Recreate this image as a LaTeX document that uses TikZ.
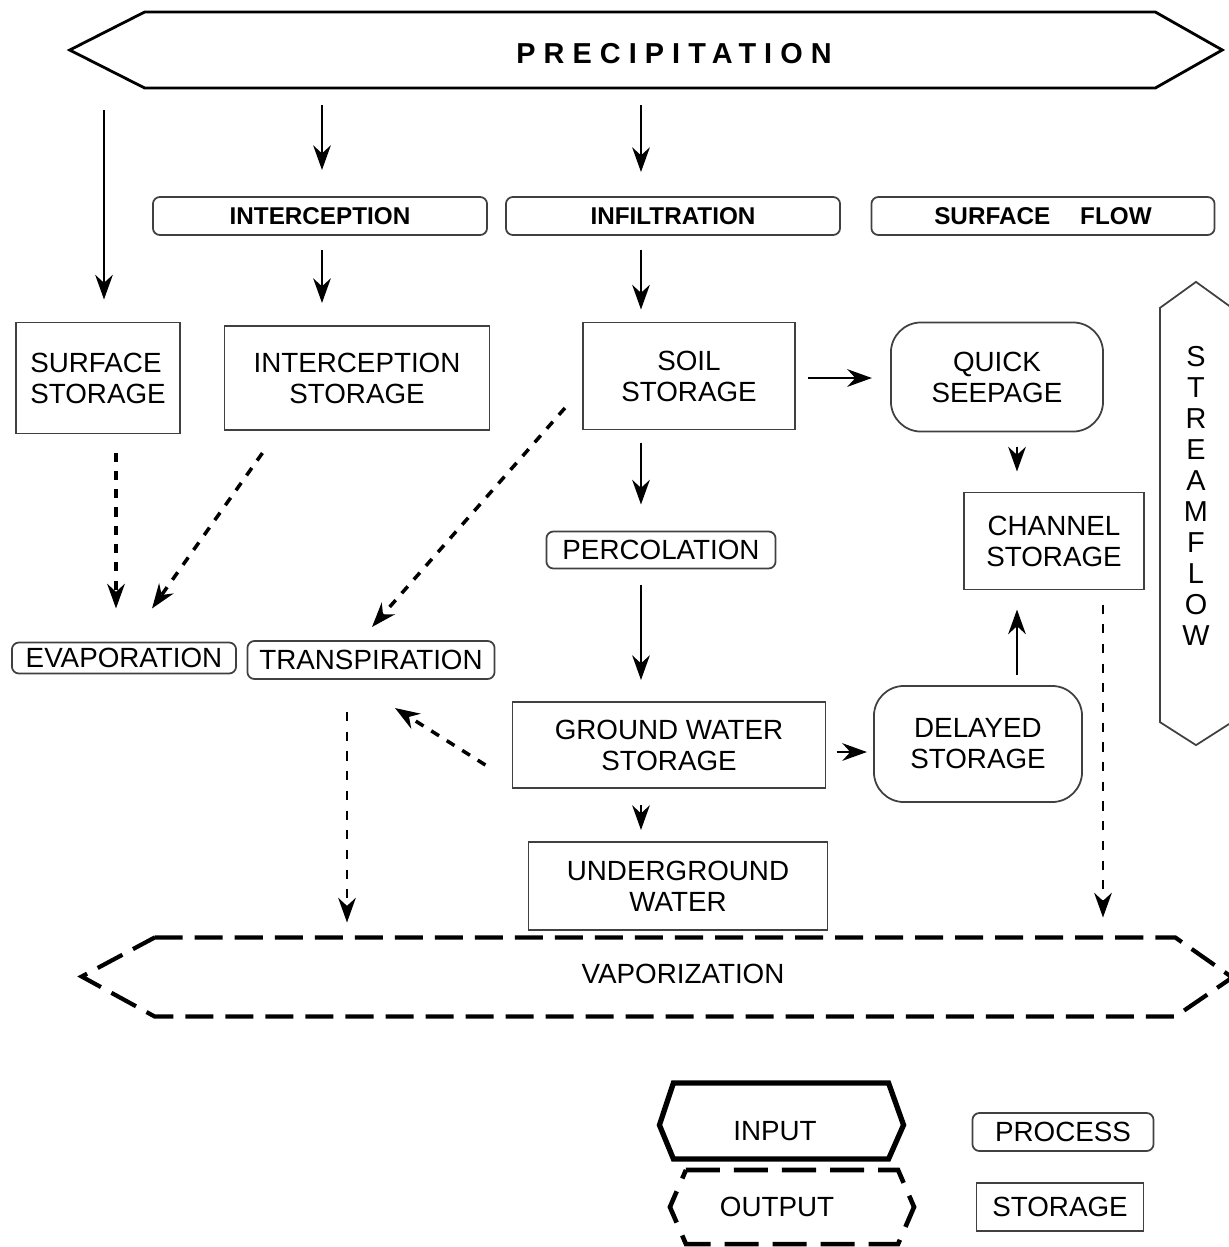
\documentclass[tikz,border=0pt]{standalone}
\usepackage{fontspec}
\setmainfont{Liberation Sans}
\usepackage{tikz}
\usetikzlibrary{arrows.meta}

\begin{document}
\begin{tikzpicture}[x=0.01cm,y=-0.01cm,>={Stealth[length=7pt,width=5pt]},
txt/.style={font=\fontsize{7.9}{8.8}\selectfont,align=center,inner sep=0pt,outer sep=0pt},
store/.style={txt,draw=black!75,line width=0.5pt},
rstore/.style={store,rounded corners=0.3cm},
proc/.style={store,rounded corners=0.07cm},
bproc/.style={proc,font=\fontsize{6.9}{8}\selectfont\bfseries},
shell/.style={inner sep=0pt,outer sep=0pt},
flow/.style={->,line width=0.7pt},
loss/.style={->,line width=1pt,dash pattern=on 2.6pt off 2.6pt},
vap/.style={->,line width=0.8pt,dash pattern=on 2.6pt off 3pt},
inio/.style={line width=0.8pt},
outio/.style={line width=1.2pt,dash pattern=on 0.28cm off 0.12cm}]
\useasboundingbox (0,0) rectangle (1229,1247);
\node (prec) [shell,minimum width=10.1cm,minimum height=0.76cm,label={[txt,font=\fontsize{8.2}{9}\selectfont\bfseries\addfontfeature{LetterSpace=28},xshift=0.24cm,yshift=-0.04cm]center:PRECIPITATION}] at (650,50) {};
\draw[inio] (prec.north west) -- (prec.north east) -- ++(67,38) -- (prec.south east) -- (prec.south west) -- ++(-75,-38) -- cycle;
\node (intc) [bproc,minimum width=3.34cm,minimum height=0.38cm] at (320,216) {INTERCEPTION};
\node (infl) [bproc,minimum width=3.34cm,minimum height=0.38cm] at (673,216) {INFILTRATION};
\node (sflow) [bproc,minimum width=3.43cm,minimum height=0.38cm] at (1043,216) {SURFACE\hspace{0.3cm}FLOW};
\node (surfst) [store,align=left,minimum width=1.64cm,minimum height=1.11cm] at (98,378) {SURFACE\\STORAGE};
\node (intst) [store,minimum width=2.65cm,minimum height=1.04cm] at (357,378) {INTERCEPTION\\STORAGE};
\node (soilst) [store,minimum width=2.12cm,minimum height=1.07cm] at (689,376) {SOIL\\STORAGE};
\node (quick) [rstore,minimum width=2.12cm,minimum height=1.09cm] at (997,377) {QUICK\\SEEPAGE};
\node (chanst) [store,minimum width=1.8cm,minimum height=0.97cm] at (1054,541) {CHANNEL\\STORAGE};
\node (perc) [proc,minimum width=2.29cm,minimum height=0.37cm] at (661,550) {PERCOLATION};
\node (evap) [proc,minimum width=2.24cm,minimum height=0.31cm] at (124,658) {EVAPORATION};
\node (transp) [proc,minimum width=2.47cm,minimum height=0.38cm] at (371,660) {TRANSPIRATION};
\node (gwst) [store,minimum width=3.13cm,minimum height=0.86cm] at (669,745) {GROUND WATER\\STORAGE};
\node (delay) [rstore,minimum width=2.08cm,minimum height=1.16cm] at (978,744) {DELAYED\\STORAGE};
\node (ugw) [store,minimum width=2.99cm,minimum height=0.88cm] at (678,886) {UNDERGROUND\\WATER};
\node (stream) [shell,minimum width=0.72cm,minimum height=4.14cm,label={[txt,font=\fontsize{8.2}{8.8}\selectfont,yshift=0.19cm]center:S\\T\\R\\E\\A\\M\\F\\L\\O\\W}] at (1196,515) {};
\draw[line width=0.5pt,black!75] (stream.south west) -- (stream.north west) -- ++(36,-26) -- ++(36,26) -- (stream.south east) -- ++(-36,23) -- cycle;
\node (vapor) [shell,minimum width=10.2cm,minimum height=0.79cm,label={[txt,xshift=0.18cm,yshift=0.03cm]center:VAPORIZATION}] at (665,977) {};
\draw[outio] (vapor.north west) -- (vapor.north east) -- ++(57,40) -- (vapor.south east) -- (vapor.south west) -- ++(-73,-40) -- cycle;
\node (inlg) [shell,minimum width=2.15cm,minimum height=0.76cm,label={[txt,xshift=-0.06cm,yshift=-0.1cm]center:INPUT}] at (781,1121) {};
\draw[line width=1.5pt] (inlg.north west) -- (inlg.north east) -- ++(15,42) -- (inlg.south east) -- (inlg.south west) -- ++(-14,-34) -- cycle;
\node (outlg) [shell,minimum width=2.12cm,minimum height=0.74cm,label={[txt,xshift=-0.15cm]center:OUTPUT}] at (792,1207) {};
\draw[line width=1.3pt,dash pattern=on 0.34cm off 0.14cm] (outlg.north west) -- (outlg.north east) -- ++(16,37) -- (outlg.south east) -- (outlg.south west) -- ++(-16,-37) -- cycle;
\node (proclg) [proc,minimum width=1.81cm,minimum height=0.38cm] at (1063,1132) {PROCESS};
\node (storlg) [store,minimum width=1.67cm,minimum height=0.48cm] at (1060,1207) {STORAGE};
\coordinate (colA) at (104,0);
\coordinate (colB) at (322,0);
\coordinate (colC) at (641,0);
\coordinate (colD) at (1017,0);
\coordinate (colE) at (116,0);
\coordinate (colF) at (347,0);
\coordinate (colG) at (1103,0);
\draw[flow,shorten <=0.22cm,shorten >=0.23cm] (prec.south -| colA) -- (surfst.north -| colA);
\draw[flow,shorten <=0.17cm,shorten >=0.27cm] (prec.south -| colB) -- (intc.north -| colB);
\draw[flow,shorten <=0.17cm,shorten >=0.25cm] (prec.south -| colC) -- (infl.north -| colC);
\draw[flow,shorten <=0.15cm,shorten >=0.23cm] (intc.south -| colB) -- (intst.north -| colB);
\draw[flow,shorten <=0.15cm,shorten >=0.13cm] (infl.south -| colC) -- (soilst.north -| colC);
\draw[flow,shorten <=0.13cm,shorten >=0.27cm] (soilst.south -| colC) -- (perc.north -| colC);
\draw[flow,shorten <=0.16cm,shorten >=0.22cm] (perc.south -| colC) -- (gwst.north -| colC);
\draw[flow,shorten <=0.17cm,shorten >=0.12cm] (gwst.south -| colC) -- (ugw.north -| colC);
\draw[flow,shorten <=0.13cm,shorten >=0.19cm] ([yshift=-0.02cm]soilst.east) -- ([yshift=-0.02cm]soilst.east -| quick.west);
\draw[flow,shorten <=0.15cm,shorten >=0.21cm] (quick.south -| colD) -- (chanst.north -| colD);
\draw[flow,shorten <=0.11cm,shorten >=0.2cm] (delay.north -| colD) -- (chanst.south -| colD);
\draw[flow,shorten <=0.11cm,shorten >=0.07cm] ([yshift=-0.07cm]gwst.east) -- ([yshift=-0.07cm]gwst.east -| delay.west);
\draw[loss,shorten <=0.19cm,shorten >=0.34cm] (surfst.south -| colE) -- (evap.north -| colE);
\draw[loss] ([shift={(38,23)}]intst.south west) -- ([shift={(28,-34)}]evap.north);
\draw[loss] ([shift={(-18,32)}]soilst.west) -- ([shift={(1,-14)}]transp.north);
\draw[loss] ([shift={(-27,20)}]gwst.west) -- ([shift={(24,29)}]transp.south);
\draw[vap,shorten <=0.33cm,shorten >=0.15cm] (transp.south -| colF) -- (vapor.north -| colF);
\draw[vap,shorten <=0.15cm,shorten >=0.2cm] (chanst.south -| colG) -- (vapor.north -| colG);
\end{tikzpicture}
\end{document}
